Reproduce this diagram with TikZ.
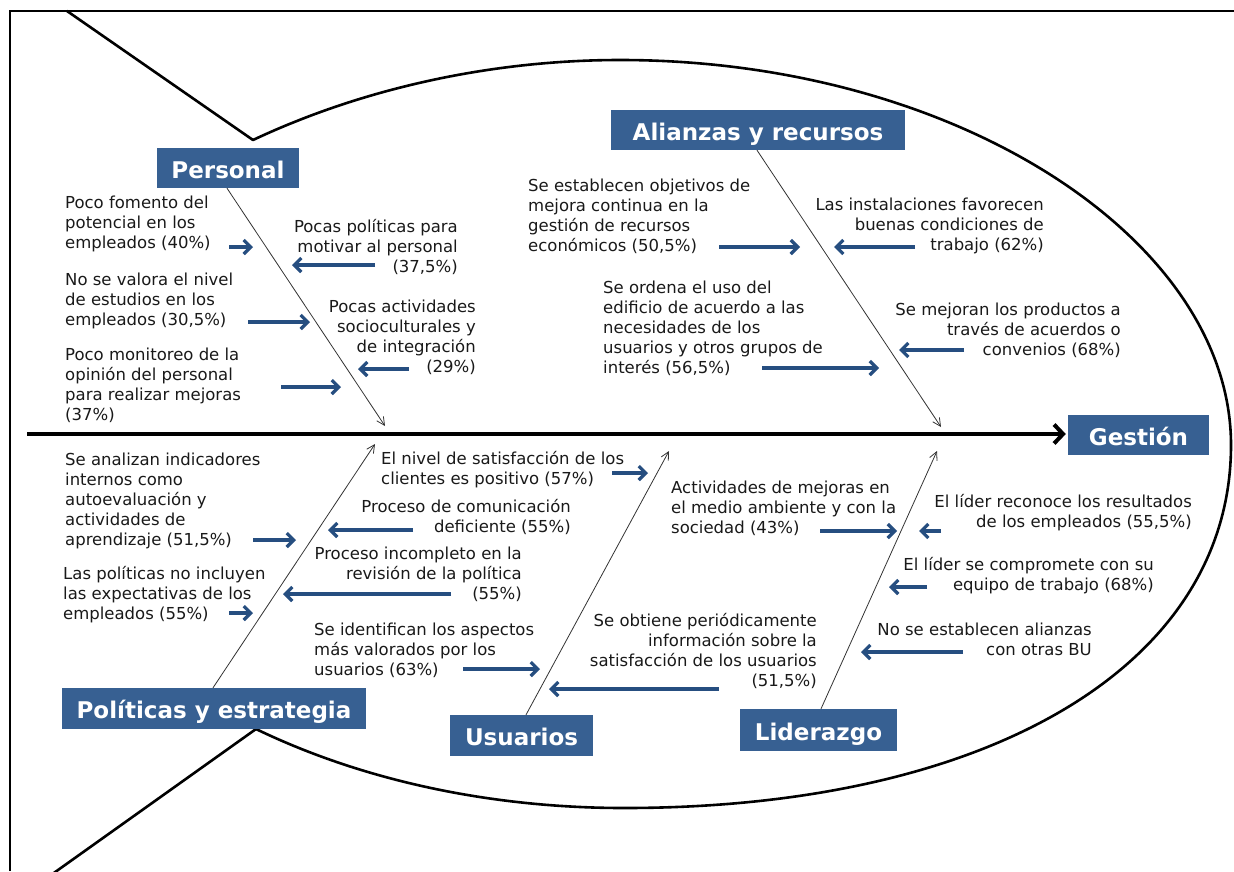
\documentclass[tikz,border=0pt]{standalone}
\usepackage{fontspec}
\setmainfont{DejaVu Sans}
\usetikzlibrary{arrows.meta}
\definecolor{boxblue}{RGB}{55,96,146}
\definecolor{arrblue}{RGB}{38,78,128}
\definecolor{txt}{RGB}{25,25,25}
\newcommand{\mystrut}{\rule{0pt}{15pt}}
\begin{document}
\begin{tikzpicture}[x=1pt,y=-1pt,
 cat/.style={fill=boxblue, text=white, font=\bfseries\fontsize{23}{23}\selectfont, inner sep=0pt, text height=20pt, text depth=0pt},
 lt/.style={anchor=north west, align=left, inner sep=0pt, text=txt, font=\fontsize{16.5}{20}\selectfont, execute at begin node=\mystrut},
 rt/.style={anchor=north east, align=right, inner sep=0pt, text=txt, font=\fontsize{16.5}{20}\selectfont, execute at begin node=\mystrut},
 bone/.style={draw=black!80, line width=0.8pt, -{Straight Barb[length=8pt,width=8pt]}},
 barrow/.style={draw=arrblue, line width=3.2pt, -{Straight Barb[length=7pt,width=14pt]}},
 outline/.style={draw=black, line width=2.6pt, line join=round, line cap=round},
]
\useasboundingbox (0,0) rectangle (1234,871);
% frame
\draw[line width=2pt] (10,871) -- (10,11) -- (1234,11);
% fish tail and body
\draw[outline] (67,11) -- (253,140);
\draw[outline] (256,729) -- (51,875);
\draw[outline] (253,140) .. controls (370,85) and (500,60) .. (620,60)
  .. controls (957,60) and (1231,240) .. (1231,445)
  .. controls (1231,665) and (990,808) .. (624,808)
  .. controls (500,808) and (370,784) .. (256,729);

% category boxes
\node[cat, minimum width=142pt, minimum height=40pt] (personal) at (228,168) {Personal};
\node[cat, minimum width=294pt, minimum height=40pt] (alianzas) at (758,130) {Alianzas y recursos};
\node[cat, minimum width=141pt, minimum height=40pt] (gestion) at (1138.5,435) {Gestión};
\node[cat, minimum width=304pt, minimum height=41pt] (politicas) at (214,708.5) {Políticas y estrategia};
\node[cat, minimum width=143pt, minimum height=41pt] (usuarios) at (521.5,735.5) {Usuarios};
\node[cat, minimum width=157pt, minimum height=42pt] (liderazgo) at (818.5,730) {Liderazgo};

% spine
\coordinate (spinestart) at (27,434);
\draw[line width=4pt, -{Straight Barb[length=9pt,width=19pt]}, shorten >=2pt] (spinestart) -- (gestion.west |- spinestart);

% bones
\coordinate (pend) at (385,426);
\coordinate (aend) at (941,427);
\coordinate (polend) at (375,444);
\coordinate (uend) at (669,451);
\coordinate (lend) at (937,451);
\draw[bone] ([xshift=-1pt]personal.south) -- (pend);
\draw[bone] ([xshift=-1pt]alianzas.south) -- (aend);
\draw[bone] ([xshift=-1pt]politicas.north) -- (polend);
\draw[bone] ([xshift=4.5pt]usuarios.north) -- (uend);
\draw[bone] ([xshift=2.5pt]liderazgo.north) -- (lend);

% texts upper-left
\node[lt] (a1) at (65,196) {Poco fomento del\\potencial en los\\empleados (40\%)};
\node[rt] (a2) at (458,219) {Pocas políticas para\\motivar al personal\\(37,5\%)};
\node[lt] (a3) at (65,273) {No se valora el nivel\\de estudios en los\\empleados (30,5\%)};
\node[rt] (a4) at (476,300) {Pocas actividades\\socioculturales y\\de integración\\(29\%)};
\node[lt] (a5) at (65,348) {Poco monitoreo de la\\opinión del personal\\para realizar mejoras\\(37\%)};
% texts upper-right
\node[lt] (b1) at (528,179) {Se establecen objetivos de\\mejora continua en la\\gestión de recursos\\económicos (50,5\%)};
\node[rt] (b2) at (1044,198) {Las instalaciones favorecen\\buenas condiciones de\\trabajo (62\%)};
\node[lt] (b3) at (603,281) {Se ordena el uso del\\edificio de acuerdo a las\\necesidades de los\\usuarios y otros grupos de\\interés (56,5\%)};
\node[rt] (b4) at (1121,303) {Se mejoran los productos a\\través de acuerdos o\\convenios (68\%)};
% texts lower-left
\node[lt] (c1) at (65,453) {Se analizan indicadores\\internos como\\autoevaluación y\\actividades de\\aprendizaje (51,5\%)};
\node[lt] (c2) at (63,566) {Las políticas no incluyen\\las expectativas de los\\empleados (55\%)};
\node[lt] (c3) at (381,451) {El nivel de satisfacción de los\\clientes es positivo (57\%)};
\node[rt] (c4) at (571,499) {Proceso de comunicación\\deficiente (55\%)};
\node[rt] (c5) at (522,547) {Proceso incompleto en la\\revisión de la política\\(55\%)};
\node[lt] (c6) at (314,623) {Se identifican los aspectos\\más valorados por los\\usuarios (63\%)};
% texts lower-right
\node[lt] (d1) at (671,481) {Actividades de mejoras en\\el medio ambiente y con la\\sociedad (43\%)};
\node[rt] (d2) at (1192,494) {El líder reconoce los resultados\\de los empleados (55,5\%)};
\node[rt] (d3) at (1154,557) {El líder se compromete con su\\equipo de trabajo (68\%)};
\node[rt] (d4) at (1092,623) {No se establecen alianzas\\con otras BU};
\node[rt] (d5) at (817,613) {Se obtiene periódicamente\\información sobre la\\satisfacción de los usuarios\\(51,5\%)};

% blue arrows
\draw[barrow] (229,247) -- (253,247);
\draw[barrow] (375,265) -- (292,265);
\draw[barrow] (248,322) -- (310,322);
\draw[barrow] (409,369) -- (358,369);
\draw[barrow] (281,387) -- (341,387);
\draw[barrow] (719,247) -- (800,247);
\draw[barrow] (915,247) -- (834,247);
\draw[barrow] (762,368) -- (879,368);
\draw[barrow] (964,350) -- (899,350);
\draw[barrow] (253,540) -- (296,540);
\draw[barrow] (229,613) -- (253,613);
\draw[barrow] (612,473) -- (648,473);
\draw[barrow] (413,530) -- (328,530);
\draw[barrow] (451,594) -- (283,594);
\draw[barrow] (463,669) -- (540,669);
\draw[barrow] (719,689) -- (549,689);
\draw[barrow] (820,531) -- (897,531);
\draw[barrow] (941,531) -- (919,531);
\draw[barrow] (927,587) -- (889,587);
\draw[barrow] (963,652) -- (861,652);
\end{tikzpicture}
\end{document}
